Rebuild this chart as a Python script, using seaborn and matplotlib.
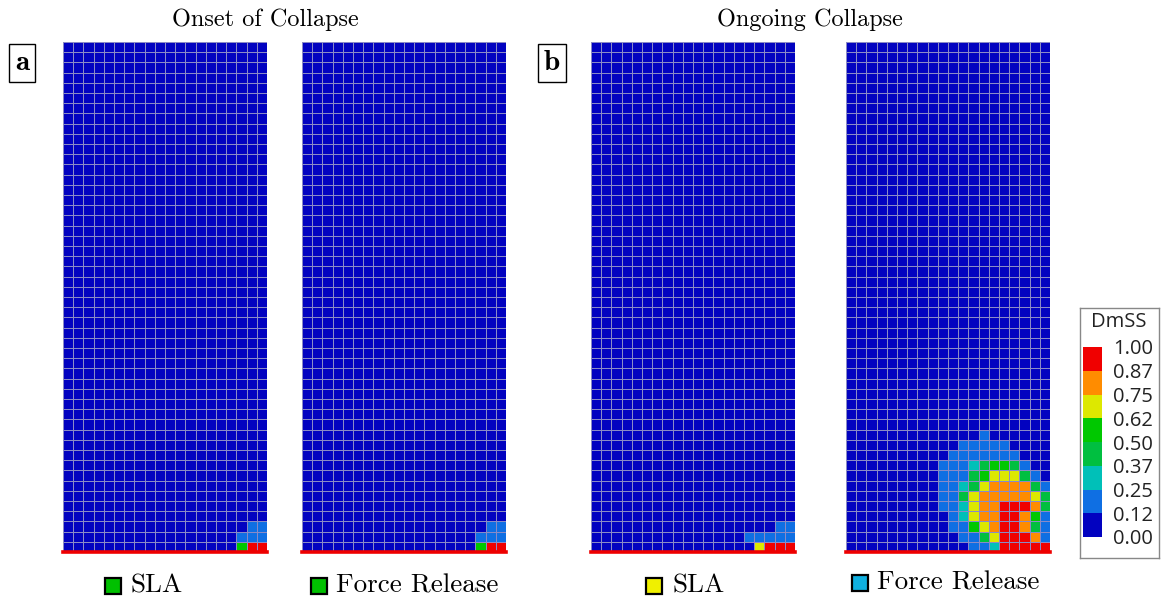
import numpy as np
import matplotlib
matplotlib.use("Agg")
import matplotlib.pyplot as plt
from matplotlib.colors import ListedColormap, BoundaryNorm
import matplotlib.cm as mcm
from matplotlib.patches import Rectangle
import seaborn as sns

# ---------------- data ----------------
N_ROWS = 50
N_COLS = 20
level_bounds = [0.0, 0.125, 0.25, 0.375, 0.5, 0.625, 0.75, 0.875, 1.0]
level_colors = ['#0202c0', '#0f6fe3', '#00c0b8', '#00bf40',
                '#00c800', '#dde800', '#ff8c00', '#f00000']
level_values = [0.0, 0.19, 0.31, 0.44, 0.56, 0.69, 0.81, 0.94]
cbar_labels = ['0.00', '0.12', '0.25', '0.37', '0.50', '0.62', '0.75', '0.87', '1.00']
cbar_title = 'DmSS'

titles = ['Onset of Collapse', 'Ongoing Collapse']
panel_letters = ['a', 'b']
method_labels = ['SLA', 'Force Release', 'SLA', 'Force Release']
method_colors = ['#00c000', '#00c000', '#f0f000', '#10b0e0']

# damaged cells near the bottom of each mesh (top row first, last row = bottom);
# one digit per column = DmSS colour level
onset_sla = [
    "00000000000000000011",
    "00000000000000000111",
    "00000000000000000477",
]
onset_force = [
    "00000000000000000011",
    "00000000000000000111",
    "00000000000000000477",
]
ongoing_sla = [
    "00000000000000000011",
    "00000000000000011111",
    "00000000000000005777",
]
ongoing_force = [
    "00000000000001000000",
    "00000000000111110000",
    "00000000001111111000",
    "00000000011123443100",
    "00000000011134555310",
    "00000000011235666631",
    "00000000011356666653",
    "00000000011256677763",
    "00000000001256677641",
    "00000000001145677631",
    "00000000000113577761",
    "00000000000011277777",
]
panels = [onset_sla, onset_force, ongoing_sla, ongoing_force]


def build_field(rows):
    field = np.zeros((N_ROWS, N_COLS))
    start = N_ROWS - len(rows)
    for i, r in enumerate(rows):
        for j, ch in enumerate(r):
            field[start + i, j] = level_values[int(ch)]
    return field


# ---------------- figure ----------------
W, H = 1161, 603
fig = plt.figure(figsize=(W / 100, H / 100), dpi=100)
cmap = ListedColormap(level_colors)
norm = BoundaryNorm(level_bounds, cmap.N)

lefts = [63, 302, 591, 846]
pw, top, bot = 204, 42, 552

for k, rows in enumerate(panels):
    ax = fig.add_axes([lefts[k] / W, 1 - bot / H, pw / W, (bot - top) / H])
    sns.heatmap(build_field(rows), ax=ax, cmap=cmap, norm=norm, cbar=False,
                linewidths=0.6, linecolor='#8a8ac6',
                xticklabels=False, yticklabels=False)
    ax.axhline(N_ROWS, color='#ee0000', lw=2.6, clip_on=False, zorder=5)

serif = 'cmr10'
# titles
fig.text(265 / W, 1 - 20 / H, titles[0], ha='center', va='center',
         fontsize=17.5, family=serif)
fig.text(810 / W, 1 - 20 / H, titles[1], ha='center', va='center',
         fontsize=17.5, family=serif)

# panel letters
for x, lab in zip([22, 552], panel_letters):
    fig.text(x / W, 1 - 63 / H, lab, ha='center', va='center', fontsize=21,
             family='cmb10',
             bbox=dict(boxstyle='square,pad=0.2', fc='white', ec='black', lw=1))

# method labels with coloured squares
sq_x = [105, 311, 646, 852]
tx_x = [130, 336, 672, 877]
ys = [586, 586, 586, 583]
for k in range(4):
    fig.patches.append(Rectangle((sq_x[k] / W, 1 - (ys[k] + 8) / H), 16 / W, 16 / H,
                                 transform=fig.transFigure, fc=method_colors[k],
                                 ec='black', lw=1.6))
    fig.text(tx_x[k] / W, 1 - ys[k] / H, method_labels[k], ha='left',
             va='center', fontsize=19.5, family=serif)

# colour bar
frame = fig.add_axes([1080 / W, 1 - 558 / H, 79 / W, 250 / H], zorder=0)
frame.set_xticks([])
frame.set_yticks([])
for s in frame.spines.values():
    s.set_color('#888888')
    s.set_linewidth(1.0)
cax = fig.add_axes([1083 / W, 1 - 537 / H, 19 / W, 190 / H], zorder=2)
sm = mcm.ScalarMappable(norm=norm, cmap=cmap)
cb = fig.colorbar(sm, cax=cax, boundaries=level_bounds, ticks=level_bounds)
cb.outline.set_visible(False)
cb.ax.tick_params(length=0, pad=8)
cb.ax.set_yticklabels(cbar_labels, fontsize=14.5, family='Open Sans', color='#222222')
fig.text(1119 / W, 1 - 322 / H, cbar_title, ha='center', va='center',
         fontsize=14.5, family='Open Sans', color='#222222', zorder=3)

fig.savefig('out.png', dpi=100)
